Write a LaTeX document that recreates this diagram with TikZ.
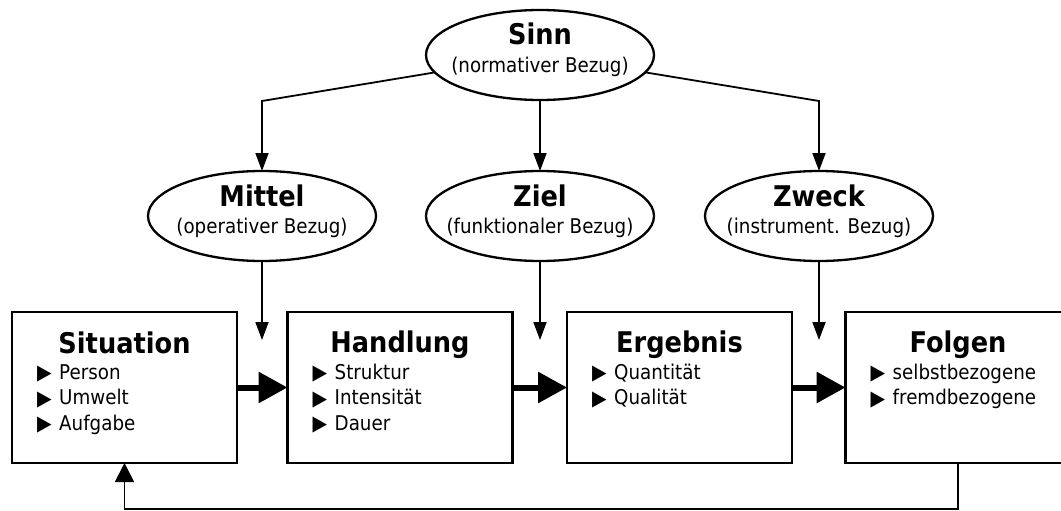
\documentclass[tikz,border=0pt]{standalone}
\usepackage{fontspec}
\setmainfont{DejaVu Sans}[FakeStretch=0.9]
\usetikzlibrary{shapes.geometric,arrows.meta,calc}

% list entry: a black pointer followed by the word
\newcommand\listentry[1]{\makebox[22pt][l]{\raisebox{-0.5pt}{\fontsize{21}{21}\selectfont ▶}}#1}

\begin{document}
\begin{tikzpicture}[x=1pt,y=-1pt,
  stagebox/.style={draw,line width=2.3pt,rectangle,minimum width=225pt,minimum height=151pt,inner sep=0pt,outer sep=0pt},
  aspect/.style={draw,line width=2.3pt,ellipse,minimum width=228pt,minimum height=90pt,inner sep=0pt,outer sep=0pt,fill=white},
  heading/.style={font=\fontsize{28.5}{30}\selectfont\bfseries,anchor=base,inner sep=0pt},
  subline/.style={font=\fontsize{20.3}{22}\selectfont,anchor=base,inner sep=0pt},
  entry/.style={font=\fontsize{20.3}{22}\selectfont,anchor=base west,inner sep=0pt},
  link/.style={line width=1.8pt,-{Triangle[length=18pt,width=13pt]}},
  flow/.style={line width=6pt,-{Triangle[length=29pt,width=30pt]}},
  loopback/.style={line width=1.8pt,-{Triangle[length=19pt,width=19pt]}},
]
\fill[white] (0,0) rectangle (1061,511);
\useasboundingbox (0,0) rectangle (1061,511);
\clip (0,0) rectangle (1061,511);

% reference ellipses
\node[aspect] (Sinn)   at (540,55)  {};
\node[aspect] (Mittel) at (262,216) {};
\node[aspect] (Ziel)   at (540,216) {};
\node[aspect] (Zweck)  at (819,216) {};

\node[heading] at ([yshift=10pt]Sinn.center)   {Sinn};
\node[subline] at ([yshift=-17.5pt]Sinn.center)  {(normativer Bezug)};
\node[heading] at ([yshift=10pt]Mittel.center) {Mittel};
\node[subline] at ([yshift=-17.5pt]Mittel.center) {(operativer Bezug)};
\node[heading] at ([yshift=10pt]Ziel.center)   {Ziel};
\node[subline] at ([yshift=-17.5pt]Ziel.center)  {(funktionaler Bezug)};
\node[heading] at ([yshift=10pt]Zweck.center)  {Zweck};
\node[subline] at ([yshift=-17.5pt]Zweck.center) {(instrument. Bezug)};

% process stages
\node[stagebox] (Situation) at (124.5,387.5) {};
\node[stagebox] (Handlung)  at (400,387.5)   {};
\node[stagebox] (Ergebnis)  at (679.5,387.5) {};
\node[stagebox] (Folgen)    at (958,387.5)   {};

\node[heading] at ([yshift=-41pt]Situation.north) {Situation};
\node[entry] at ([xshift=25pt,yshift=-67pt]Situation.north west) {\listentry{Person}};
\node[entry] at ([xshift=25pt,yshift=-92.5pt]Situation.north west) {\listentry{Umwelt}};
\node[entry] at ([xshift=25pt,yshift=-118pt]Situation.north west) {\listentry{Aufgabe}};

\node[heading] at ([yshift=-40pt]Handlung.north) {Handlung};
\node[entry] at ([xshift=25pt,yshift=-67pt]Handlung.north west) {\listentry{Struktur}};
\node[entry] at ([xshift=25pt,yshift=-92.5pt]Handlung.north west) {\listentry{Intensität}};
\node[entry] at ([xshift=25pt,yshift=-118pt]Handlung.north west) {\listentry{Dauer}};

\node[heading] at ([yshift=-40pt]Ergebnis.north) {Ergebnis};
\node[entry] at ([xshift=25pt,yshift=-67pt]Ergebnis.north west) {\listentry{Quantität}};
\node[entry] at ([xshift=25pt,yshift=-92.5pt]Ergebnis.north west) {\listentry{Qualität}};

\node[heading] at ([yshift=-40pt]Folgen.north) {Folgen};
\node[entry] at ([xshift=25pt,yshift=-67pt]Folgen.north west) {\listentry{selbstbezogene}};
\node[entry] at ([xshift=25pt,yshift=-92.5pt]Folgen.north west) {\listentry{fremdbezogene}};

% Sinn branches down to the three references
\coordinate (cornerM) at (Mittel.north |- 0,101);
\coordinate (cornerZ) at (Zweck.north |- 0,101);
\draw[link] (Sinn) -- (cornerM) -- (Mittel.north);
\draw[link] (Sinn.south) -- (Ziel.north);
\draw[link] (Sinn) -- (cornerZ) -- (Zweck.north);

% references act on the transitions between stages
\coordinate (tipM) at (Mittel.south |- 0,340);
\coordinate (tipZ) at (Ziel.south |- 0,340);
\coordinate (tipW) at (Zweck.south |- 0,340);
\draw[link] (Mittel.south) -- (tipM);
\draw[link] (Ziel.south) -- (tipZ);
\draw[link] (Zweck.south) -- (tipW);

% main flow
\draw[flow] (Situation.east) -- (Handlung.west);
\draw[flow] (Handlung.east) -- (Ergebnis.west);
\draw[flow] (Ergebnis.east) -- (Folgen.west);

% feedback loop
\coordinate (loopR) at (Folgen.south |- 0,509);
\draw[loopback] (Folgen.south) -- (loopR) -| (Situation.south);
\end{tikzpicture}
\end{document}
